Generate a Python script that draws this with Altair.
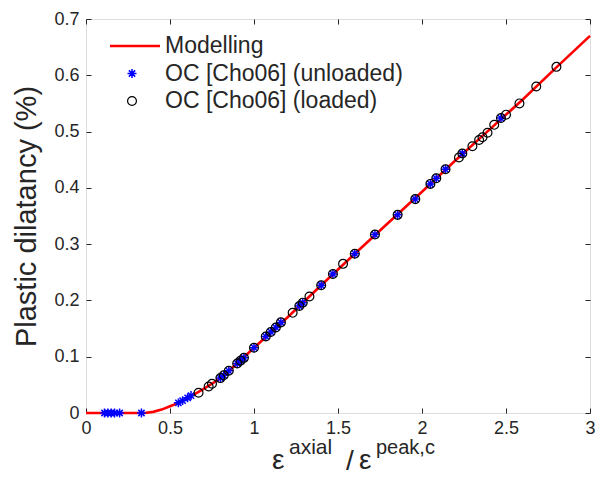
import altair as alt
import pandas as pd

# ---- data ----
curve_x = [0, 0.1, 0.2, 0.3, 0.35, 0.4, 0.45, 0.5, 0.55, 0.6, 0.65, 0.7, 0.75, 0.8,
           0.9, 1.0, 1.2, 1.4, 1.6, 1.8, 2.0, 2.2, 2.4, 2.6, 2.8, 3.0]
curve_y = [0, 0, 0, 0, 0, 0.002, 0.006, 0.012, 0.018, 0.026, 0.034, 0.043, 0.052, 0.062,
           0.088, 0.116, 0.170, 0.227, 0.283, 0.338, 0.393, 0.449, 0.503, 0.557, 0.614, 0.670]

unl_x = [0.11, 0.13, 0.15, 0.17, 0.20, 0.33, 0.55, 0.575, 0.605, 0.625, 0.80, 0.82, 0.85,
         0.90, 0.92, 0.94, 1.00, 1.07, 1.10, 1.13, 1.16, 1.27, 1.29, 1.40, 1.47, 1.60,
         1.72, 1.855, 1.96, 2.05, 2.085, 2.14, 2.24, 2.47]
unl_y = [0, 0, 0, 0, 0, 0, 0.018, 0.022, 0.027, 0.031, 0.062, 0.067, 0.075,
         0.088, 0.093, 0.098, 0.116, 0.136, 0.144, 0.152, 0.161, 0.190, 0.196, 0.227, 0.247, 0.283,
         0.317, 0.352, 0.380, 0.407, 0.417, 0.433, 0.461, 0.524]

lod_x = [0.67, 0.73, 0.75, 0.80, 0.82, 0.85, 0.90, 0.92, 0.94, 1.00, 1.07, 1.10, 1.13, 1.16,
         1.23, 1.27, 1.29, 1.33, 1.40, 1.47, 1.53, 1.60, 1.72, 1.855, 1.96, 2.05, 2.085, 2.14,
         2.22, 2.24, 2.30, 2.34, 2.36, 2.39, 2.43, 2.47, 2.50, 2.58, 2.68, 2.80]
lod_y = [0.036, 0.047, 0.052, 0.062, 0.067, 0.075, 0.088, 0.093, 0.098, 0.116, 0.136, 0.144, 0.152, 0.161,
         0.178, 0.190, 0.196, 0.207, 0.227, 0.247, 0.265, 0.283, 0.317, 0.352, 0.380, 0.407, 0.417, 0.433,
         0.454, 0.461, 0.474, 0.485, 0.490, 0.498, 0.512, 0.524, 0.530, 0.550, 0.580, 0.615]

x_ticks = [0, 0.5, 1, 1.5, 2, 2.5, 3]
y_ticks = [0, 0.1, 0.2, 0.3, 0.4, 0.5, 0.6, 0.7]

legend_labels = ["Modelling", "OC [Cho06] (unloaded)", "OC [Cho06] (loaded)"]
y_title = "Plastic dilatancy (%)"

# ---- styling ----
FONT = "Liberation Sans"
AX = "#262626"
W, H = 504, 394
ASTERISK = "M-1,0L1,0M0,-1L0,1M-0.7,-0.7L0.7,0.7M-0.7,0.7L0.7,-0.7"

curve = pd.DataFrame({"x": curve_x, "y": curve_y})
unl = pd.DataFrame({"x": unl_x, "y": unl_y})
lod = pd.DataFrame({"x": lod_x, "y": lod_y})

xs = alt.Scale(domain=[0, 3], nice=False, zero=False)
ys = alt.Scale(domain=[0, 0.7], nice=False, zero=False)

def tick_axis(orient, offset, values):
    return alt.Axis(orient=orient, offset=offset, values=values, labels=False, ticks=True,
                    tickSize=5, tickColor=AX, tickWidth=1, domain=False, grid=False, title=None)

x_main = alt.Axis(values=x_ticks, ticks=False, tickSize=0, domain=False, grid=False,
                  labelFont=FONT, labelFontSize=18, labelColor=AX, labelPadding=6,
                  labelFlush=False, format="~g", title=None)
y_main = alt.Axis(values=y_ticks, ticks=False, tickSize=0, domain=False, grid=False,
                  labelFont=FONT, labelFontSize=18, labelColor=AX, labelPadding=7,
                  labelFlush=False, format="~g", title=y_title, titleFont=FONT,
                  titleFontSize=29, titleFontWeight="normal", titleColor=AX, titlePadding=12)

line = alt.Chart(curve).mark_line(color="#FF0000", strokeWidth=2.6).encode(
    x=alt.X("x:Q", scale=xs, axis=x_main),
    y=alt.Y("y:Q", scale=ys, axis=y_main),
    order="x:Q",
)

stars = alt.Chart(unl).mark_point(shape=ASTERISK, size=80, filled=False, color="#0000FF",
                                  strokeWidth=1.5, opacity=1).encode(
    x=alt.X("x:Q", scale=xs, axis=tick_axis("top", -H, x_ticks)),
    y=alt.Y("y:Q", scale=ys, axis=tick_axis("right", -W, y_ticks)),
)

circles = alt.Chart(lod).mark_point(shape="circle", size=78, filled=False, color="#000000",
                                    strokeWidth=1.2, opacity=1).encode(
    x=alt.X("x:Q", scale=xs, axis=tick_axis("bottom", -H, x_ticks)),
    y=alt.Y("y:Q", scale=ys, axis=tick_axis("left", -W, y_ticks)),
)

one = pd.DataFrame({"k": [0]})

leg_line = alt.Chart(one).mark_rule(color="#FF0000", strokeWidth=2.6).encode(
    x=alt.value(24), x2=alt.value(74), y=alt.value(27))
leg_star = alt.Chart(one).mark_point(shape=ASTERISK, size=80, filled=False, color="#0000FF",
                                     strokeWidth=1.5, opacity=1).encode(
    x=alt.value(46), y=alt.value(54.5))
leg_circ = alt.Chart(one).mark_point(shape="circle", size=78, filled=False, color="#000000",
                                     strokeWidth=1.2, opacity=1).encode(
    x=alt.value(46), y=alt.value(82))
leg_text = [
    alt.Chart(pd.DataFrame({"t": [lab]})).mark_text(
        font=FONT, fontSize=23, color=AX, align="left", baseline="middle").encode(
        text="t:N", x=alt.value(79), y=alt.value(yy))
    for lab, yy in zip(legend_labels, [27, 54.5, 82])
]

def txt(s, x, y, size, align="left"):
    return alt.Chart(pd.DataFrame({"t": [s]})).mark_text(
        font=FONT, fontSize=size, color=AX, align=align, baseline="alphabetic").encode(
        text="t:N", x=alt.value(x), y=alt.value(y))

xt = [
    txt("ε", 186, 450, 28),
    txt("axial", 203, 435, 21),
    txt("/", 260, 451, 28),
    txt("ε", 273, 450, 28),
    txt("peak,c", 290, 435, 20),
]

chart = alt.layer(line, stars, circles, leg_line, leg_star, leg_circ, *leg_text, *xt).resolve_axis(
    x="independent", y="independent"
).properties(
    width=W, height=H,
    autosize=alt.AutoSizeParams(type="none"),
    padding={"left": 78, "top": 11, "right": 8, "bottom": 62},
).configure_view(stroke=AX, strokeWidth=1).configure(background="white")

chart.save("out.html", embed_options={"renderer": "svg", "actions": False})
